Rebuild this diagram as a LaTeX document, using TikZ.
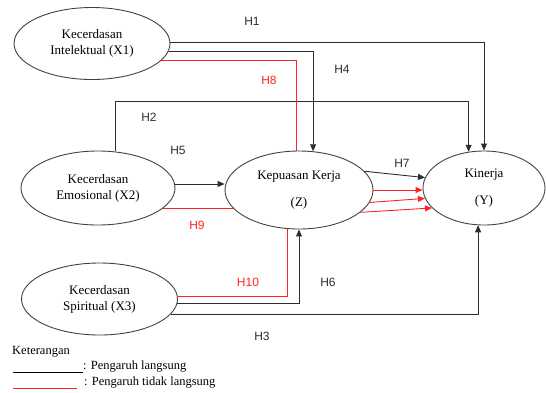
\documentclass[tikz,border=0pt]{standalone}
\usepackage{fontspec}
\setmainfont{Liberation Serif}
\newfontfamily\hfont{Liberation Sans}
\usetikzlibrary{shapes.geometric,arrows.meta}
\definecolor{lred}{RGB}{255,35,35}
\definecolor{lblk}{RGB}{45,45,45}
\begin{document}
\begin{tikzpicture}[x=1pt,y=-1pt,
  ell/.style={ellipse,draw=lblk!90!white,line width=0.9pt,inner sep=0pt,align=center,
              font=\fontsize{13}{16}\selectfont},
  blk/.style={draw=lblk,line width=0.9pt},
  redl/.style={draw=lred,line width=0.9pt},
  arr/.style={-{Triangle[length=7pt,width=6pt]}},
  hl/.style={font=\hfont\fontsize{12}{14}\selectfont,text=lblk,inner sep=0pt},
  hr/.style={font=\hfont\fontsize{12}{14}\selectfont,text=lred,inner sep=0pt},
  lg/.style={font=\fontsize{12.5}{15}\selectfont,inner sep=0pt,anchor=west}
]
\useasboundingbox (0,0) rectangle (546,392);

% variables
\node[ell,minimum width=156pt,minimum height=72pt] (X1) at (92,43.5) {Kecerdasan\\Intelektual (X1)};
\node[ell,minimum width=154pt,minimum height=74pt] (X2) at (98,188) {Kecerdasan\\Emosional (X2)};
\node[ell,minimum width=148pt,minimum height=78pt] (Z) at (299,190) {Kepuasan Kerja\\[11pt](Z)};
\node[ell,minimum width=122pt,minimum height=74pt] (Y) at (484,188) {Kinerja\\[11pt](Y)};
\node[ell,minimum width=156pt,minimum height=72pt] (X3) at (99.5,299) {Kecerdasan\\Spiritual (X3)};

\coordinate (h2y) at (0,101);

% direct effects
\draw[blk,arr] (X1.1) -| (Y.north);
\draw[blk,arr] (X1.-6) -| (Z.70);
\draw[blk,arr] (X2.65) -- (X2.65 |- h2y) -| (Y.113);
\draw[blk,arr] (X2.3) -- (X2.3 -| Z.west);
\draw[blk,arr] (Z.16) -- (Y.170);
\draw[blk,arr] (X3.-3) -| (Z.south);
\draw[blk,arr] (X3.-12) -| (Y.261);

% indirect effects
\draw[redl] (X1.-14) -| (Z.94);
\draw[redl] (X2.-17) -- (X2.-17 -| Z.195);
\draw[redl] (X3.2) -| (Z.253);
\draw[redl,arr] (Z.east) -- (Z.east -| Y.west);
\draw[redl,arr] (Z.-10) -- (Y.190);
\draw[redl,arr] (Z.-20) -- (Y.201);

% labels
\node[hl] (lH1) at (252,21) {H1};
\node[hr] (lH8) at (269,80) {H8};
\node[hl] (lH4) at (342,69) {H4};
\node[hl] (lH2) at (149,117) {H2};
\node[hl] (lH5) at (178,150) {H5};
\node[hr] (lH9) at (197,225) {H9};
\node[hl] (lH7) at (402,163) {H7};
\node[hr] (lH10) at (248,282) {H10};
\node[hl] (lH6) at (328,282) {H6};
\node[hl] (lH3) at (262,336) {H3};

% legend
\node[lg] (ket) at (12,352) {Keterangan};
\coordinate (la) at (13,372);
\coordinate (lb) at (83,372);
\draw[line width=0.8pt,black] (la) -- (lb);
\node[lg] (t1) at (83,367) {: Pengaruh langsung};
\coordinate (lc) at (13,388.5);
\coordinate (ld) at (77,388.5);
\draw[redl,line width=1pt] (lc) -- (ld);
\node[lg] (t2) at (84,383) {: Pengaruh tidak langsung};
\end{tikzpicture}
\end{document}
